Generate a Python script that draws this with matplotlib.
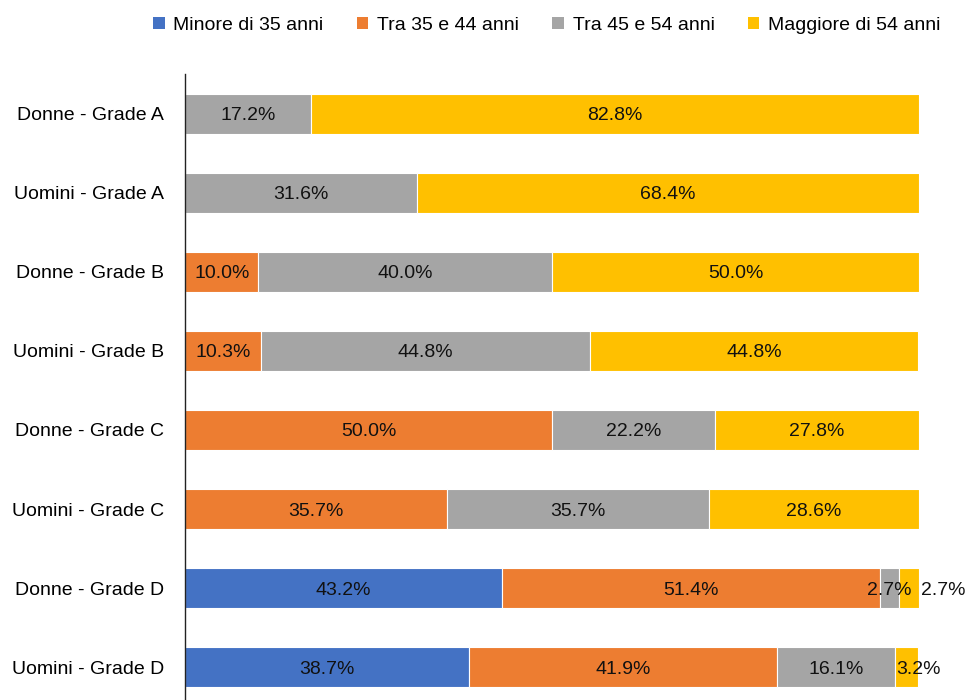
import matplotlib.pyplot as plt
import numpy as np
from matplotlib.patches import Patch

plt.rcParams['font.family'] = ['Liberation Sans Narrow', 'Liberation Sans', 'DejaVu Sans']

categories = ["Donne - Grade A", "Uomini - Grade A", "Donne - Grade B", "Uomini - Grade B",
              "Donne - Grade C", "Uomini - Grade C", "Donne - Grade D", "Uomini - Grade D"]
series = ["Minore di 35 anni", "Tra 35 e 44 anni", "Tra 45 e 54 anni", "Maggiore di 54 anni"]
under35 = [0, 0, 0, 0, 0, 0, 43.2, 38.7]
from35to44 = [0, 0, 10.0, 10.3, 50.0, 35.7, 51.4, 41.9]
from45to54 = [17.2, 31.6, 40.0, 44.8, 22.2, 35.7, 2.7, 16.1]
over54 = [82.8, 68.4, 50.0, 44.8, 27.8, 28.6, 2.7, 3.2]
colors = ["#4472C4", "#ED7D31", "#A5A5A5", "#FFC000"]

values = [under35, from35to44, from45to54, over54]
fs = 14

fig = plt.figure(figsize=(9.66, 7), dpi=100)
ax = fig.add_axes([0.1915, -0.0093, 0.76, 0.9029])

y = np.arange(len(categories))
left = np.zeros(len(categories))
for s, vals, c in zip(series, values, colors):
    vals = np.array(vals)
    ax.barh(y, vals, left=left, height=0.51, color=c, edgecolor="white", linewidth=0.8)
    for i, v in enumerate(vals):
        if v <= 0:
            continue
        cx = left[i] + v / 2
        ha = "center"
        # tiny end segments: label pushed past the bar end
        if s == "Maggiore di 54 anni" and v < 3:
            cx = left[i] + v + 0.3
            ha = "left"
        elif s == "Maggiore di 54 anni" and v < 5:
            cx = left[i] + v
        ax.text(cx, y[i], f"{v:.1f}%", ha=ha, va="center_baseline", fontsize=fs, color="#111111")
    left += vals

ax.set_xlim(0, 100)
ax.set_ylim(len(categories) - 0.5, -0.5)
ax.set_yticks(y)
ax.set_yticklabels(categories, fontsize=fs, va="center_baseline")
ax.tick_params(axis="y", length=0, pad=15)
ax.set_xticks([])
for sp in ["top", "right", "bottom"]:
    ax.spines[sp].set_visible(False)
ax.spines["left"].set_color("#222222")
ax.spines["left"].set_linewidth(1.0)

handles = [Patch(facecolor=c, edgecolor="none") for c in colors]
fig.legend(handles, series, loc="center", bbox_to_anchor=(0.566, 0.964), ncol=4,
           frameon=False, fontsize=fs, handlelength=0.6, handleheight=0.6,
           handletextpad=0.45, columnspacing=1.7)

fig.savefig("out.png", dpi=100)
